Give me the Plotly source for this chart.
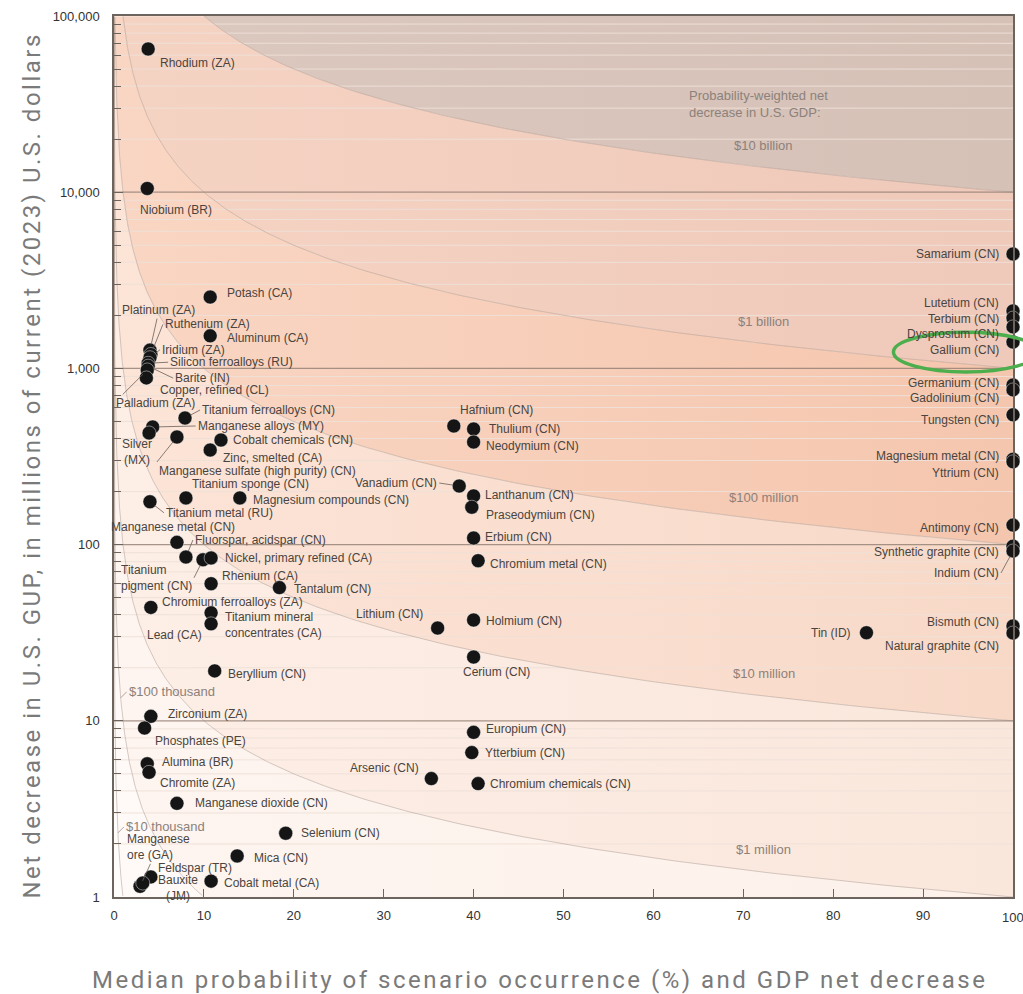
import numpy as np
import plotly.graph_objects as go

# ---------------- data ----------------
minerals = [
    "Rhodium (ZA)", "Niobium (BR)", "Potash (CA)", "Aluminum (CA)", "Platinum (ZA)",
    "Ruthenium (ZA)", "Iridium (ZA)", "Silicon ferroalloys (RU)", "Barite (IN)", "Palladium (ZA)",
    "Copper, refined (CL)", "Titanium ferroalloys (CN)", "Manganese alloys (MY)", "Silver\n(MX)",
    "Manganese sulfate (high purity) (CN)", "Cobalt chemicals (CN)", "Zinc, smelted (CA)",
    "Titanium sponge (CN)", "Magnesium compounds (CN)", "Titanium metal (RU)", "Manganese metal (CN)",
    "Fluorspar, acidspar (CN)", "Titanium\npigment (CN)", "Nickel, primary refined (CA)", "Rhenium (CA)",
    "Tantalum (CN)", "Chromium ferroalloys (ZA)", "Lead (CA)", "Titanium mineral\nconcentrates (CA)",
    "Beryllium (CN)", "Zirconium (ZA)", "Phosphates (PE)", "Alumina (BR)", "Chromite (ZA)",
    "Manganese dioxide (CN)", "Selenium (CN)", "Mica (CN)", "Feldspar (TR)", "Manganese\nore (GA)",
    "Bauxite\n(JM)", "Cobalt metal (CA)", "Hafnium (CN)", "Thulium (CN)", "Neodymium (CN)",
    "Vanadium (CN)", "Lanthanum (CN)", "Praseodymium (CN)", "Erbium (CN)", "Chromium metal (CN)",
    "Lithium (CN)", "Holmium (CN)", "Cerium (CN)", "Europium (CN)", "Ytterbium (CN)", "Arsenic (CN)",
    "Chromium chemicals (CN)", "Tin (ID)", "Samarium (CN)", "Lutetium (CN)", "Terbium (CN)",
    "Dysprosium (CN)", "Gallium (CN)", "Germanium (CN)", "Gadolinium (CN)", "Tungsten (CN)",
    "Magnesium metal (CN)", "Yttrium (CN)", "Antimony (CN)", "Synthetic graphite (CN)", "Indium (CN)",
    "Bismuth (CN)", "Natural graphite (CN)",
]
probability = [
    3.8, 3.7, 10.7, 10.7, 4.0,
    4.1, 4.0, 3.8, 3.8, 3.7,
    3.6, 7.9, 4.3, 3.9,
    7.0, 11.9, 10.7,
    8.0, 14.0, 4.0, 7.0,
    8.0, 9.9, 10.8, 10.8,
    18.4, 4.1, 10.8, 10.8,
    11.2, 4.1, 3.4, 3.7, 3.9,
    7.0, 19.1, 13.7, 4.1, 2.9,
    3.2, 10.8, 37.8, 40.0, 40.0,
    38.4, 40.0, 39.8, 40.0, 40.5,
    36.0, 40.0, 40.0, 40.0, 39.8, 35.3,
    40.5, 83.7, 100, 100, 100,
    100, 100, 100, 100, 100,
    100, 100, 100, 100, 100,
    100, 100,
]
gdp_decrease = [
    65000, 10500, 2540, 1530, 1270,
    1200, 1150, 1070, 1030, 980,
    883, 523, 465, 430,
    408, 392, 344,
    184, 184, 175, 103,
    85, 82, 84, 60,
    57, 44, 41, 35.5,
    19.2, 10.6, 9.1, 5.7, 5.1,
    3.4, 2.3, 1.71, 1.30, 1.15,
    1.20, 1.23, 471, 453, 382,
    215, 189, 163, 109, 81,
    33.6, 37.3, 23.0, 8.6, 6.6, 4.7,
    4.4, 31.6, 4460, 2120, 1930,
    1720, 1410, 805, 755, 545,
    305, 295, 129, 98, 92,
    34.5, 31.5,
]

band_values = [10000, 1000, 100, 10, 1, 0.1, 0.01]   # probability-weighted loss, millions
band_names = ["$10 billion", "$1 billion", "$100 million", "$10 million", "$1 million",
              "$100 thousand", "$10 thousand"]
y_tickvals = [1, 10, 100, 1000, 10000, 100000]
y_ticktext = ["1", "10", "100", "1,000", "10,000", "100,000"]
x_tickvals = [0, 10, 20, 30, 40, 50, 60, 70, 80, 90]
x_last_tick = 100

# ---------------- label placement (styling) ----------------
# (xanchor, dx px, dy px (down +), leader line, yanchor)
placement = {
    "Rhodium (ZA)": ("left", 10, 14, False, "middle"),
    "Niobium (BR)": ("left", -9, 22, False, "middle"),
    "Potash (CA)": ("left", 15, -4, False, "middle"),
    "Aluminum (CA)": ("left", 15, 2, False, "middle"),
    "Platinum (ZA)": ("center", 9, -40, True, "middle"),
    "Ruthenium (ZA)": ("left", 12, -30, True, "middle"),
    "Iridium (ZA)": ("left", 10, -8, True, "middle"),
    "Silicon ferroalloys (RU)": ("left", 20, -1, True, "middle"),
    "Barite (IN)": ("left", 25, 12, True, "middle"),
    "Palladium (ZA)": ("left", -33, 33, True, "middle"),
    "Copper, refined (CL)": ("left", 12, 12, False, "middle"),
    "Titanium ferroalloys (CN)": ("left", 15, -8, True, "middle"),
    "Manganese alloys (MY)": ("left", 43, -1, True, "middle"),
    "Silver\n(MX)": ("center", -12, 19, False, "middle"),
    "Manganese sulfate (high purity) (CN)": ("left", -20, 25, True, "top"),
    "Cobalt chemicals (CN)": ("left", 10, 0, False, "middle"),
    "Zinc, smelted (CA)": ("left", 11, 8, False, "middle"),
    "Titanium sponge (CN)": ("left", 4, -14, False, "middle"),
    "Magnesium compounds (CN)": ("left", 11, 2, False, "middle"),
    "Titanium metal (RU)": ("left", 14, 11, True, "middle"),
    "Manganese metal (CN)": ("center", -4, -15, False, "middle"),
    "Fluorspar, acidspar (CN)": ("left", 7, -17, True, "middle"),
    "Titanium\npigment (CN)": ("right", -9, 18, True, "middle"),
    "Nickel, primary refined (CA)": ("left", 12, 0, False, "middle"),
    "Rhenium (CA)": ("left", 9, -8, False, "middle"),
    "Tantalum (CN)": ("left", 13, 1, False, "middle"),
    "Chromium ferroalloys (ZA)": ("left", 9, -5, False, "middle"),
    "Lead (CA)": ("left", -66, 22, False, "middle"),
    "Titanium mineral\nconcentrates (CA)": ("left", 12, 1, False, "middle"),
    "Beryllium (CN)": ("left", 11, 3, False, "middle"),
    "Zirconium (ZA)": ("left", 15, -2, False, "middle"),
    "Phosphates (PE)": ("left", 8, 13, False, "middle"),
    "Alumina (BR)": ("left", 13, -2, False, "middle"),
    "Chromite (ZA)": ("left", 9, 11, False, "middle"),
    "Manganese dioxide (CN)": ("left", 16, 0, False, "middle"),
    "Selenium (CN)": ("left", 13, 0, False, "middle"),
    "Mica (CN)": ("left", 15, 2, False, "middle"),
    "Feldspar (TR)": ("left", 5, -9, False, "middle"),
    "Manganese\nore (GA)": ("center", 18, -39, True, "middle"),
    "Bauxite\n(JM)": ("center", 35, 5, False, "middle"),
    "Cobalt metal (CA)": ("left", 11, 2, False, "middle"),
    "Hafnium (CN)": ("left", 4, -16, False, "middle"),
    "Thulium (CN)": ("left", 13, 0, False, "middle"),
    "Neodymium (CN)": ("left", 10, 4, False, "middle"),
    "Vanadium (CN)": ("right", -20, -3, True, "middle"),
    "Lanthanum (CN)": ("left", 9, -1, False, "middle"),
    "Praseodymium (CN)": ("left", 12, 8, False, "middle"),
    "Erbium (CN)": ("left", 9, -1, False, "middle"),
    "Chromium metal (CN)": ("left", 10, 3, False, "middle"),
    "Lithium (CN)": ("right", -13, -14, False, "middle"),
    "Holmium (CN)": ("left", 10, 1, False, "middle"),
    "Cerium (CN)": ("left", -13, 15, False, "middle"),
    "Europium (CN)": ("left", 10, -3, False, "middle"),
    "Ytterbium (CN)": ("left", 11, 0, False, "middle"),
    "Arsenic (CN)": ("right", -10, -11, False, "middle"),
    "Chromium chemicals (CN)": ("left", 10, 0, False, "middle"),
    "Tin (ID)": ("right", -13, 0, False, "middle"),
    "Samarium (CN)": ("right", -12, 0, False, "middle"),
    "Lutetium (CN)": ("right", -12, -8, False, "middle"),
    "Terbium (CN)": ("right", -12, 1, False, "middle"),
    "Dysprosium (CN)": ("right", -12, 7, False, "middle"),
    "Gallium (CN)": ("right", -12, 8, False, "middle"),
    "Germanium (CN)": ("right", -12, -2, False, "middle"),
    "Gadolinium (CN)": ("right", -12, 8, False, "middle"),
    "Tungsten (CN)": ("right", -12, 5, False, "middle"),
    "Magnesium metal (CN)": ("right", -12, -3, False, "middle"),
    "Yttrium (CN)": ("right", -12, 11, False, "middle"),
    "Antimony (CN)": ("right", -12, 3, False, "middle"),
    "Synthetic graphite (CN)": ("right", -12, 6, False, "middle"),
    "Indium (CN)": ("right", -12, 22, True, "middle"),
    "Bismuth (CN)": ("right", -12, -4, False, "middle"),
    "Natural graphite (CN)": ("right", -12, 13, False, "middle"),
}

# band fills: (left colour, right colour) for a soft horizontal gradient
band_colors = [
    ("#dbc8bf", "#d6c1b7"),
    ("#f5d3c3", "#efc9ba"),
    ("#f9d6c3", "#f5c6ae"),
    ("#fce4d7", "#f8d9c8"),
    ("#fdeee6", "#fae7dc"),
    ("#fef5f0", "#fdf1ea"),
    ("#fffaf7", "#fef7f3"),
    ("#fffdfb", "#fffbf9"),
]

LABEL_FONT = dict(family="Liberation Sans, Arial, sans-serif", size=12, color="#4a4440")
BAND_FONT = dict(family="Liberation Sans, Arial, sans-serif", size=13, color="#8c817a")
TICK_FONT = dict(family="Liberation Sans Narrow, Liberation Sans, sans-serif", size=13, color="#333")
AXIS_COLOR = "#6e645e"

fig = go.Figure()

# ---------------- probability-weighted bands ----------------
xs = np.geomspace(1e-5, 100, 800)
edges = [None] + band_values + [None]
for i in range(len(edges) - 1):
    v_hi, v_lo = edges[i], edges[i + 1]
    upper = np.full_like(xs, 1e5) if v_hi is None else np.clip(v_hi * 100 / xs, 1, 1e5)
    lower = np.ones_like(xs) if v_lo is None else np.clip(v_lo * 100 / xs, 1, 1e5)
    c_left, c_right = band_colors[i]
    fig.add_trace(go.Scatter(
        x=np.concatenate([xs, xs[::-1]]), y=np.concatenate([upper, lower[::-1]]),
        fill="toself", fillcolor=c_right,
        fillgradient=dict(type="horizontal", colorscale=[[0, c_left], [1, c_right]]),
        line=dict(width=0), mode="lines", hoverinfo="skip", showlegend=False))

# minor horizontal lines
minor_y = [m * 10 ** d for d in range(0, 5) for m in range(2, 10)]
gx, gy = [], []
for v in minor_y:
    gx += [0, 100, None]
    gy += [v, v, None]
fig.add_trace(go.Scatter(x=gx, y=gy, mode="lines", line=dict(color="rgba(238,224,216,0.95)", width=1),
                         hoverinfo="skip", showlegend=False))

# band boundaries
for v in band_values:
    yy = v * 100 / xs
    mask = (yy <= 1e5) & (yy >= 1)
    fig.add_trace(go.Scatter(x=xs[mask], y=yy[mask], mode="lines",
                             line=dict(color="rgba(170,150,140,0.5)", width=1),
                             hoverinfo="skip", showlegend=False))

# decade lines
dx_, dy_ = [], []
for v in y_tickvals[1:-1]:
    dx_ += [0, 100, None]
    dy_ += [v, v, None]
fig.add_trace(go.Scatter(x=dx_, y=dy_, mode="lines", line=dict(color="rgba(150,130,120,0.85)", width=1.3),
                         hoverinfo="skip", showlegend=False))

# ---------------- points ----------------
fig.add_trace(go.Scatter(
    x=probability, y=gdp_decrease, mode="markers",
    marker=dict(size=14, color="#151515", line=dict(color="rgba(255,255,255,0.55)", width=0.8)),
    cliponaxis=False, showlegend=False, hovertext=minerals))

annotations = []
for name, px, py in zip(minerals, probability, gdp_decrease):
    xa, dx, dy, leader, ya = placement[name]
    txt = name.replace("\n", "<br>")
    if leader:
        annotations.append(dict(x=px, y=np.log10(py), text=txt, showarrow=True, arrowhead=0,
                                arrowwidth=0.8, arrowcolor="#6a605a", ax=dx, ay=dy, standoff=6,
                                xanchor=xa, yanchor=ya, align="left", font=LABEL_FONT))
    else:
        annotations.append(dict(x=px, y=np.log10(py), text=txt, showarrow=False,
                                xshift=dx, yshift=-dy, xanchor=xa, yanchor=ya,
                                align="left" if xa != "center" else "center", font=LABEL_FONT))

# band labels
annotations.append(dict(x=63.7, y=4.50, text="Probability-weighted net<br>decrease in U.S. GDP:",
                        showarrow=False, xanchor="left", yanchor="middle", align="left", font=BAND_FONT))
for v, lab in zip(band_values[:5], band_names[:5]):
    annotations.append(dict(x=72.3, y=np.log10(v * 1.85), text=lab, showarrow=False,
                            xanchor="center", yanchor="middle", font=BAND_FONT))
for v, lab, yv in zip(band_values[5:], band_names[5:], [13.5, 2.31]):
    annotations.append(dict(x=v * 100 / yv, y=np.log10(yv), text=lab, showarrow=True, arrowhead=0,
                            arrowwidth=0.8, arrowcolor="#9a8f88", ax=6, ay=-6, standoff=0,
                            xanchor="left", yanchor="middle", font=BAND_FONT))

# last x tick label (sits at the page edge)
annotations.append(dict(x=x_last_tick, xref="x", yref="paper", y=0, yshift=-20, text=str(x_last_tick),
                        showarrow=False, xanchor="center", yanchor="middle", font=TICK_FONT))

# axis titles
TITLE_FONT = dict(family="Roboto, Open Sans, sans-serif", size=24, color="#7a7a7a")
SPACED = '<span style="letter-spacing:2.5px">{}</span>'
annotations.append(dict(xref="paper", yref="paper", x=-0.091, y=0.49, textangle=-90,
                        text=SPACED.format("Net decrease in U.S. GUP, in millions of current (2023) U.S. dollars"),
                        showarrow=False, xanchor="center", yanchor="middle", font=TITLE_FONT))
annotations.append(dict(xref="paper", yref="paper", x=0.473, y=-0.094,
                        text=SPACED.format("Median probability of scenario occurrence (%) and GDP net decrease"),
                        showarrow=False, xanchor="center", yanchor="middle", font=TITLE_FONT))

fig.update_layout(
    width=1023, height=994,
    margin=dict(l=114, r=8, t=16, b=97),
    paper_bgcolor="white", plot_bgcolor="white",
    annotations=annotations,
    shapes=[dict(type="circle", xref="paper", yref="paper", x0=0.867, x1=1.028, y0=0.596, y1=0.641,
                 line=dict(color="#4cae4c", width=3.5))],
    xaxis=dict(range=[0, 100], tickvals=x_tickvals, ticks="inside", ticklen=8, tickcolor=AXIS_COLOR,
               showgrid=False, zeroline=False, showline=True, linecolor=AXIS_COLOR, linewidth=1.5,
               mirror=True, layer="above traces", ticklabelstandoff=6, tickfont=TICK_FONT),
    yaxis=dict(type="log", range=[0, 5], tickvals=y_tickvals, ticktext=y_ticktext, ticks="inside",
               ticklen=9, tickcolor=AXIS_COLOR, showgrid=False, zeroline=False, showline=True,
               linecolor=AXIS_COLOR, linewidth=1.5, mirror=True, layer="above traces",
               ticklabelstandoff=10,
               minor=dict(ticks="inside", ticklen=7, tickcolor=AXIS_COLOR, dtick="D1", showgrid=False),
               tickfont=TICK_FONT),
)

fig.write_html("out.html", config={"displayModeBar": False},
               post_script="document.body.style.margin='0';")
